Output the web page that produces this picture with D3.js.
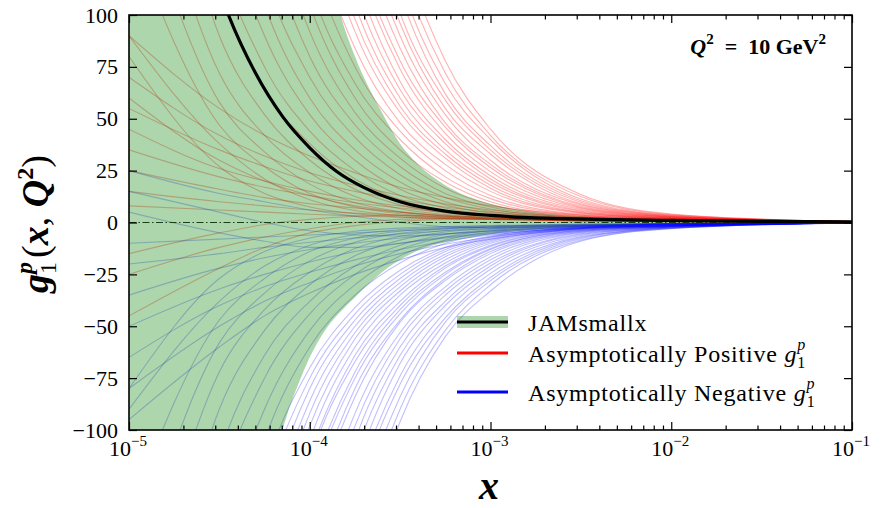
<!DOCTYPE html>
<html>
<head>
<meta charset="utf-8">
<script src="https://cdn.jsdelivr.net/npm/d3@7"></script>
<style>
body { margin: 0; background: #fff; }
text { font-family: "Liberation Serif", "Times New Roman", serif; fill: #000; }
</style>
</head>
<body>
<svg id="chart" width="885" height="508"></svg>
<script>
// x grid shared by every replica curve
const gridX = [1e-5, 3.16e-5, 5.62e-5, 1e-4, 1.78e-4, 3.16e-4, 5.62e-4, 1e-3, 3.16e-3, 1e-2, 1e-1]

// asymptotically positive replicas (values of g1p on gridX)
const redReplicas = [
    [80, 27, 14, 7.5, 4.2, 2.7, 1.9, 1.45, 0.7, 0.42, 0.2],
    [90, 38, 21, 11, 5.8, 3.4, 2.3, 1.7, 0.85, 0.47, 0.2],
    [140, 47, 27, 14, 7.5, 4.2, 2.7, 1.9, 1.0, 0.52, 0.2],
    [175, 58, 34, 18.5, 9.5, 5.2, 3.1, 2.15, 1.2, 0.6, 0.25],
    [215, 72, 42, 24, 12.5, 6.6, 3.8, 2.5, 1.35, 0.67, 0.25],
    [270, 90, 52, 30, 16, 8.5, 4.6, 2.9, 1.5, 0.75, 0.3],
    [335, 112, 64, 38, 21, 11, 5.8, 3.4, 1.7, 0.85, 0.3],
    [390, 130, 75, 44, 25, 13, 7, 3.9, 1.85, 0.95, 0.3],
    [460, 155, 90, 52, 30, 16, 8.5, 4.6, 2.0, 1.1, 0.35],
    [530, 185, 105, 60, 35, 19.5, 10, 5.4, 2.2, 1.2, 0.35],
    [620, 215, 120, 70, 41, 23, 12, 6.5, 2.45, 1.35, 0.35],
    [700, 240, 140, 80, 47, 27, 14, 7.5, 2.7, 1.45, 0.4],
    [800, 275, 160, 92, 53, 31, 16.5, 8.7, 2.95, 1.55, 0.4],
    [900, 310, 185, 105, 60, 35, 19.5, 10, 3.2, 1.6, 0.4],
    [950, 350, 205, 115, 67, 40, 22, 11.5, 3.6, 1.75, 0.4],
    [1000, 390, 225, 130, 75, 44, 25, 13, 3.9, 1.85, 0.4],
    [1000, 430, 250, 145, 84, 48, 28, 15, 4.4, 1.95, 0.4],
    [1000, 470, 275, 160, 92, 53, 31, 16.5, 4.7, 2.0, 0.4],
    [1000, 500, 295, 170, 98, 56, 33, 18, 5.0, 2.1, 0.4],
    [1000, 530, 310, 185, 105, 60, 35, 19.5, 5.4, 2.2, 0.4],
    [1000, 570, 335, 195, 112, 64, 38, 21, 5.8, 2.3, 0.4],
    [1000, 610, 355, 205, 120, 68, 40, 22.5, 6.3, 2.4, 0.4],
    [1000, 650, 380, 220, 128, 74, 43, 24.5, 6.8, 2.55, 0.4],
    [1000, 690, 400, 235, 135, 78, 46, 26.5, 7.3, 2.65, 0.4],
    [1000, 730, 430, 250, 145, 84, 48, 28, 7.8, 2.75, 0.4],
    [1000, 790, 460, 270, 155, 90, 52, 30, 8.5, 2.9, 0.4],
    [1000, 850, 490, 290, 165, 96, 55, 33, 9.0, 3.0, 0.4],
    [1000, 900, 520, 305, 180, 101, 59, 35, 9.8, 3.15, 0.4],
    [1000, 950, 560, 330, 190, 110, 62, 37, 10.5, 3.3, 0.4],
    [1000, 1000, 600, 350, 205, 117, 67, 40, 11.3, 3.5, 0.4],
    [1000, 1000, 640, 370, 215, 125, 72, 42, 12.5, 3.8, 0.4],
    [1000, 1000, 680, 390, 230, 135, 78, 45, 13.5, 4.1, 0.4],
    [90, 55, 42, 32, 24, 17, 12, 8, 3.5, 1.5, 0.2],
    [70, 42, 32, 24, 18, 13, 9, 6, 2.5, 1.2, 0.2],
    [55, 35, 27, 20, 15, 11, 7.5, 5, 2.2, 1, 0.2],
    [45, 26, 20, 15, 11, 8, 5.5, 3.8, 1.8, 0.8, 0.2],
    [35, 22, 17, 13, 9.5, 7, 5, 3.5, 1.6, 0.8, 0.2],
    [25, 16, 12, 9, 7, 5, 3.5, 2.5, 1.2, 0.6, 0.2],
    [15, 10, 8, 6, 4.5, 3.5, 2.5, 1.8, 1, 0.5, 0.2],
    [8, 6, 5, 4, 3.2, 2.5, 2, 1.5, 0.8, 0.4, 0.2],
    [-25, -12, -7, -3, 0, 1.5, 2, 1.8, 1, 0.5, 0.2],
    [-45, -22, -12, -5, -1.5, 0.5, 1.5, 1.5, 0.8, 0.4, 0.2],
    [-15, -5, -1, 1.5, 3, 3.5, 3, 2.2, 1.1, 0.5, 0.2],
    [60, 30, 20, 13, 8, 5, 3.2, 2.2, 1.1, 0.5, 0.2]
]

// asymptotically negative replicas
const blueReplicas = [
    [-80, -27, -14, -7.5, -4.2, -2.7, -1.9, -1.45, -0.7, -0.42, -0.2],
    [-90, -38, -21, -11, -5.8, -3.4, -2.3, -1.7, -0.85, -0.47, -0.2],
    [-140, -47, -27, -14, -7.5, -4.2, -2.7, -1.9, -1.0, -0.52, -0.2],
    [-175, -58, -34, -18.5, -9.5, -5.2, -3.1, -2.15, -1.2, -0.6, -0.2],
    [-215, -72, -42, -24, -12.5, -6.6, -3.8, -2.5, -1.35, -0.67, -0.2],
    [-270, -90, -52, -30, -16, -8.5, -4.6, -2.9, -1.5, -0.75, -0.2],
    [-335, -112, -64, -38, -21, -11, -5.8, -3.4, -1.7, -0.85, -0.2],
    [-390, -130, -75, -44, -25, -13, -7, -3.9, -1.85, -0.95, -0.2],
    [-460, -155, -90, -52, -30, -16, -8.5, -4.6, -2.0, -1.1, -0.2],
    [-530, -185, -105, -60, -35, -19.5, -10, -5.4, -2.2, -1.2, -0.2],
    [-620, -215, -120, -70, -41, -23, -12, -6.5, -2.45, -1.35, -0.2],
    [-660, -225, -130, -75, -44, -25, -13, -7, -2.55, -1.4, -0.2],
    [-700, -240, -140, -80, -47, -27, -14, -7.5, -2.7, -1.45, -0.2],
    [-740, -255, -150, -86, -50, -29, -15.3, -8.1, -2.8, -1.5, -0.2],
    [-800, -275, -160, -92, -53, -31, -16.5, -8.7, -2.95, -1.55, -0.2],
    [-860, -295, -170, -98, -56, -33, -18, -9.3, -3.05, -1.6, -0.2],
    [-900, -310, -185, -105, -60, -35, -19.5, -10, -3.2, -1.6, -0.2],
    [-920, -335, -195, -112, -64, -38, -21, -11, -3.4, -1.7, -0.2],
    [-950, -350, -205, -115, -67, -40, -22, -11.5, -3.6, -1.75, -0.2],
    [-980, -370, -215, -125, -72, -42, -24, -12.5, -3.8, -1.8, -0.2],
    [-1000, -390, -225, -130, -75, -44, -25, -13, -3.9, -1.85, -0.2],
    [-1000, -415, -240, -140, -80, -47, -27, -14, -4.2, -1.9, -0.2],
    [-1000, -430, -250, -145, -84, -48, -28, -15, -4.4, -1.95, -0.2],
    [-1000, -470, -275, -160, -92, -53, -31, -16.5, -4.7, -2.0, -0.2],
    [-1000, -500, -295, -170, -98, -56, -33, -18, -5.0, -2.1, -0.2],
    [-1000, -530, -310, -185, -105, -60, -35, -19.5, -5.4, -2.2, -0.2],
    [-1000, -570, -335, -195, -112, -64, -38, -21, -5.8, -2.3, -0.2],
    [-1000, -610, -355, -205, -120, -68, -40, -22.5, -6.3, -2.4, -0.2],
    [-1000, -650, -380, -220, -128, -74, -43, -24.5, -6.8, -2.55, -0.2],
    [-1000, -690, -400, -235, -135, -78, -46, -26.5, -7.3, -2.65, -0.2],
    [-1000, -730, -430, -250, -145, -84, -48, -28, -7.8, -2.75, -0.2],
    [-1000, -790, -460, -270, -155, -90, -52, -30, -8.5, -2.9, -0.2],
    [-1000, -850, -490, -290, -165, -96, -55, -33, -9.0, -3.0, -0.2],
    [25, 14, 10, 6, 3, 0, -2, -2.5, -1.5, -0.6, -0.1],
    [-10, -8, -7, -6, -5, -4, -3, -2.2, -1.2, -0.5, -0.1],
    [-20, -15, -12, -9.5, -7.5, -5.5, -4, -3, -1.5, -0.6, -0.1],
    [-35, -22, -17, -13, -10, -7.5, -5.5, -4, -1.8, -0.8, -0.1],
    [-50, -32, -25, -19, -14, -10, -7, -5, -2.2, -1, -0.1],
    [-65, -40, -31, -24, -18, -13, -9, -6, -2.5, -1.1, -0.1],
    [-80, -50, -38, -29, -21, -15, -10.5, -7, -2.8, -1.2, -0.1],
    [-95, -60, -45, -34, -25, -18, -12, -8, -3, -1.3, -0.1],
    [15, 5, 0, -4, -6, -6.5, -5.5, -4.2, -2, -0.9, -0.1],
    [5, -5, -9, -12, -12, -10, -7.5, -5.5, -2.4, -1, -0.1]
]

// JAMsmallx central curve
const centralX = [2.51e-5, 3.55e-5, 5.01e-5, 7.08e-5, 1e-4, 1.41e-4, 2e-4, 3.16e-4, 5.62e-4, 1e-3, 2e-3, 3.98e-3, 1e-2, 3.16e-2, 1e-1]
const centralY = [138, 100, 72, 51, 36, 24.6, 16.8, 10, 5.5, 3.4, 2.1, 1.5, 1.0, 0.55, 0.35]

// JAMsmallx uncertainty band
const bandX = [1e-5, 3.16e-5, 5.62e-5, 7.08e-5, 8.91e-5, 1.26e-4, 1.48e-4, 1.78e-4, 2.51e-4, 3.16e-4, 3.98e-4, 5.62e-4, 1e-3, 1.78e-3, 3.16e-3, 5.62e-3, 1e-2, 3.16e-2, 1e-1]
const bandUpper = [600, 400, 300, 240, 190, 125, 100, 80, 53, 38, 28, 18, 9, 5, 3, 1.8, 1.1, 0.5, 0.35]
const bandLower = [-600, -300, -140, -100, -75, -50, -43, -36, -24, -18, -13.5, -9.5, -5.5, -3.2, -1.8, -1.0, -0.5, -0.2, -0.05]

const yTicks = [-100, -75, -50, -25, 0, 25, 50, 75, 100]
const xTicks = [1e-5, 1e-4, 1e-3, 1e-2, 1e-1]
const xTickExp = ['\u22125', '\u22124', '\u22123', '\u22122', '\u22121']
const legendNames = ['JAMsmallx', 'Asymptotically Positive ', 'Asymptotically Negative ']

let svgWidth = 885
let svgHeight = 508
let padding = { left: 129, right: 33, top: 15, bottom: 78 }
let plotW = svgWidth - padding.left - padding.right
let plotH = svgHeight - padding.top - padding.bottom

let svg = d3.select('#chart')

let x = d3.scaleLog()
    .domain([1e-5, 1e-1])
    .range([padding.left, padding.left + plotW])
let y = d3.scaleLinear()
    .domain([-100, 100])
    .range([padding.top + plotH, padding.top])

svg.append('defs').append('clipPath')
    .attr('id', 'plotclip')
    .append('rect')
    .attr('x', padding.left)
    .attr('y', padding.top)
    .attr('width', plotW)
    .attr('height', plotH)

let plot = svg.append('g').attr('clip-path', 'url(#plotclip)')

let replicaLine = d3.line()
    .x((d, i) => x(gridX[i]))
    .y(d => y(d))
    .curve(d3.curveMonotoneX)

plot.append('g')
    .selectAll('path')
    .data(redReplicas)
    .enter()
    .append('path')
    .attr('d', replicaLine)
    .attr('fill', 'none')
    .attr('stroke', 'red')
    .attr('stroke-opacity', 0.3)
    .attr('stroke-width', 1.1)

plot.append('g')
    .selectAll('path')
    .data(blueReplicas)
    .enter()
    .append('path')
    .attr('d', replicaLine)
    .attr('fill', 'none')
    .attr('stroke', 'blue')
    .attr('stroke-opacity', 0.25)
    .attr('stroke-width', 1.1)

// dash-dot zero line
plot.append('line')
    .attr('x1', x(1e-5))
    .attr('x2', x(1e-1))
    .attr('y1', y(0))
    .attr('y2', y(0))
    .attr('stroke', '#222')
    .attr('stroke-width', 1.1)
    .attr('stroke-dasharray', '7,2.5,1.5,2.5')

let bandArea = d3.area()
    .x((d, i) => x(bandX[i]))
    .y0((d, i) => y(bandLower[i]))
    .y1(d => y(d))
    .curve(d3.curveMonotoneX)

plot.append('path')
    .datum(bandUpper)
    .attr('d', bandArea)
    .attr('fill', 'green')
    .attr('fill-opacity', 0.32)

let centralLine = d3.line()
    .x((d, i) => x(centralX[i]))
    .y(d => y(d))
    .curve(d3.curveMonotoneX)

plot.append('path')
    .datum(centralY)
    .attr('d', centralLine)
    .attr('fill', 'none')
    .attr('stroke', 'black')
    .attr('stroke-width', 3.2)

// axes, ticks pointing inward
let minorTicks = []
xTicks.slice(0, -1).forEach(t => {
    for (let k = 2; k < 10; k++) minorTicks.push(t * k)
})

function styleAxis(g) {
    g.select('.domain').remove()
    g.selectAll('.tick line').attr('stroke', '#000').attr('stroke-width', 1.2)
}

svg.append('g')
    .attr('transform', `translate(0, ${padding.top + plotH})`)
    .call(d3.axisBottom(x).tickValues(xTicks).tickSize(-8).tickSizeOuter(0).tickFormat(''))
    .call(styleAxis)
svg.append('g')
    .attr('transform', `translate(0, ${padding.top + plotH})`)
    .call(d3.axisBottom(x).tickValues(minorTicks).tickSize(-4.5).tickSizeOuter(0).tickFormat(''))
    .call(styleAxis)
svg.append('g')
    .attr('transform', `translate(0, ${padding.top})`)
    .call(d3.axisTop(x).tickValues(xTicks).tickSize(-8).tickSizeOuter(0).tickFormat(''))
    .call(styleAxis)
svg.append('g')
    .attr('transform', `translate(0, ${padding.top})`)
    .call(d3.axisTop(x).tickValues(minorTicks).tickSize(-4.5).tickSizeOuter(0).tickFormat(''))
    .call(styleAxis)

svg.append('g')
    .attr('transform', `translate(${padding.left}, 0)`)
    .call(d3.axisLeft(y).tickValues(yTicks).tickSize(-8).tickSizeOuter(0).tickPadding(11)
        .tickFormat(d => d < 0 ? '\u2212' + Math.abs(d) : d))
    .call(styleAxis)
    .selectAll('text')
    .attr('font-family', '"Liberation Serif", serif')
    .attr('font-size', '22px')
    .attr('fill', '#000')
svg.append('g')
    .attr('transform', `translate(${padding.left + plotW}, 0)`)
    .call(d3.axisRight(y).tickValues(yTicks).tickSize(-8).tickSizeOuter(0).tickFormat(''))
    .call(styleAxis)

// frame
svg.append('rect')
    .attr('x', padding.left)
    .attr('y', padding.top)
    .attr('width', plotW)
    .attr('height', plotH)
    .attr('fill', 'none')
    .attr('stroke', '#000')
    .attr('stroke-width', 1.6)

// x tick labels 10^n
let xLab = svg.append('g')
    .selectAll('text')
    .data(xTicks)
    .enter()
    .append('text')
    .attr('x', d => x(d) - 1)
    .attr('y', 456)
    .attr('text-anchor', 'middle')
    .attr('font-size', '22px')
xLab.append('tspan').text('10')
xLab.append('tspan')
    .attr('font-size', '15px')
    .attr('dy', -10)
    .text((d, i) => xTickExp[i])

// axis titles
svg.append('text')
    .attr('x', 489)
    .attr('y', 499)
    .attr('text-anchor', 'middle')
    .attr('font-size', '40px')
    .attr('font-weight', 'bold')
    .attr('font-style', 'italic')
    .text('x')

let yTitle = svg.append('text')
    .attr('transform', 'translate(48, 224) rotate(-90)')
    .attr('text-anchor', 'middle')
    .attr('font-size', '38px')
yTitle.append('tspan').attr('font-weight', 'bold').attr('font-style', 'italic').text('g')
yTitle.append('tspan').attr('font-size', '24px').attr('dy', 8).text('1')
yTitle.append('tspan').attr('font-size', '24px').attr('font-weight', 'bold').attr('font-style', 'italic')
    .attr('dx', -12).attr('dy', -24).text('p')
yTitle.append('tspan').attr('dy', 16).attr('dx', 4).text('(')
yTitle.append('tspan').attr('font-weight', 'bold').attr('font-style', 'italic').text('x')
yTitle.append('tspan').text(', ')
yTitle.append('tspan').attr('font-weight', 'bold').attr('font-style', 'italic').text('Q')
yTitle.append('tspan').attr('font-size', '24px').attr('font-weight', 'bold').attr('dy', -15).text('2')
yTitle.append('tspan').attr('dy', 15).text(')')

// Q^2 annotation
let qText = svg.append('text')
    .attr('x', 826)
    .attr('y', 54)
    .attr('text-anchor', 'end')
    .attr('font-size', '22px')
    .attr('font-weight', 'bold')
qText.append('tspan').attr('font-style', 'italic').text('Q')
qText.append('tspan').attr('font-size', '15px').attr('dy', -10).text('2')
qText.append('tspan').attr('dy', 10).text('\u2002=\u200210 GeV')
qText.append('tspan').attr('font-size', '15px').attr('dy', -10).text('2')

// legend
let legendY = [322, 353, 392]
let leg = svg.append('g')
leg.append('rect')
    .attr('x', 457)
    .attr('y', legendY[0] - 6)
    .attr('width', 51)
    .attr('height', 12)
    .attr('fill', 'green')
    .attr('fill-opacity', 0.32)
;['black', 'red', 'blue'].forEach((c, i) => {
    leg.append('line')
        .attr('x1', 457)
        .attr('x2', 508)
        .attr('y1', legendY[i])
        .attr('y2', legendY[i])
        .attr('stroke', c)
        .attr('stroke-width', 3.2)
})
legendNames.forEach((name, i) => {
    let t = leg.append('text')
        .attr('x', 528)
        .attr('y', legendY[i] + 9)
        .attr('font-size', '24px')
        .attr('letter-spacing', '0.8px')
    t.append('tspan').text(name)
    if (i > 0) {
        t.append('tspan').attr('font-style', 'italic').text('g')
        t.append('tspan').attr('font-size', '16px').attr('dy', 6).text('1')
        t.append('tspan').attr('font-size', '16px').attr('font-style', 'italic')
            .attr('dx', -9).attr('dy', -18).text('p')
    }
})
</script>
</body>
</html>
